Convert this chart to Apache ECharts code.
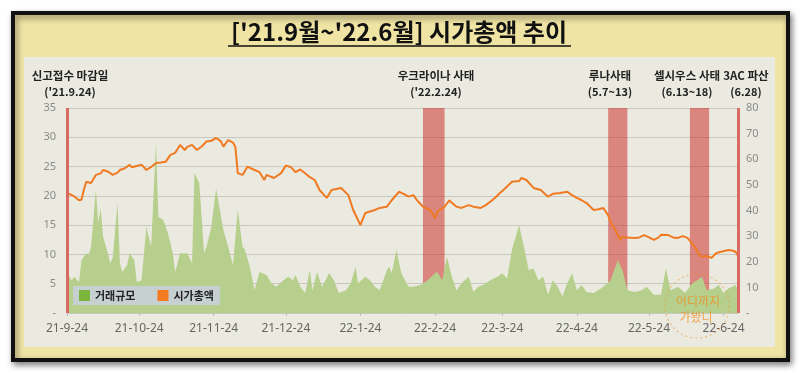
<!DOCTYPE html>
<html>
<head>
<meta charset="utf-8">
<script src="https://cdn.jsdelivr.net/npm/echarts@6/dist/echarts.min.js"></script>
<style>
html,body{margin:0;padding:0;background:#fff;}
#c{width:800px;height:373px;}
</style>
</head>
<body>
<div id="c"></div>
<script>
// ---- data ----
const startDate = '2021-09-24';
const endDate = '2022-06-30';
const tickDates = ['2021-09-24','2021-10-24','2021-11-24','2021-12-24','2022-01-24','2022-02-24','2022-03-24','2022-04-24','2022-05-24','2022-06-24'];
const tickLabels = ['21-9-24','21-10-24','21-11-24','21-12-24','22-1-24','22-2-24','22-3-24','22-4-24','22-5-24','22-6-24'];

const capDates = ['2021-09-24','2021-09-25','2021-09-27','2021-09-29','2021-09-30','2021-10-01','2021-10-02','2021-10-04','2021-10-06','2021-10-08','2021-10-09','2021-10-11','2021-10-13','2021-10-15','2021-10-16','2021-10-18','2021-10-20','2021-10-21','2021-10-23','2021-10-25','2021-10-27','2021-10-29','2021-10-31','2021-11-02','2021-11-04','2021-11-06','2021-11-08','2021-11-10','2021-11-12','2021-11-13','2021-11-15','2021-11-17','2021-11-19','2021-11-21','2021-11-23','2021-11-25','2021-11-27','2021-11-28','2021-11-30','2021-12-02','2021-12-03','2021-12-04','2021-12-06','2021-12-08','2021-12-11','2021-12-13','2021-12-15','2021-12-16','2021-12-19','2021-12-22','2021-12-24','2021-12-26','2021-12-28','2021-12-30','2022-01-01','2022-01-03','2022-01-05','2022-01-07','2022-01-10','2022-01-12','2022-01-16','2022-01-19','2022-01-21','2022-01-23','2022-01-24','2022-01-26','2022-01-30','2022-02-01','2022-02-04','2022-02-06','2022-02-09','2022-02-11','2022-02-13','2022-02-15','2022-02-17','2022-02-19','2022-02-22','2022-02-24','2022-02-25','2022-02-28','2022-03-02','2022-03-03','2022-03-05','2022-03-07','2022-03-10','2022-03-12','2022-03-15','2022-03-17','2022-03-19','2022-03-21','2022-03-23','2022-03-25','2022-03-28','2022-03-31','2022-04-01','2022-04-03','2022-04-06','2022-04-09','2022-04-12','2022-04-14','2022-04-17','2022-04-20','2022-04-22','2022-04-24','2022-04-26','2022-04-28','2022-05-01','2022-05-03','2022-05-05','2022-05-07','2022-05-08','2022-05-10','2022-05-12','2022-05-13','2022-05-15','2022-05-18','2022-05-20','2022-05-22','2022-05-24','2022-05-26','2022-05-28','2022-05-29','2022-06-01','2022-06-03','2022-06-05','2022-06-07','2022-06-09','2022-06-12','2022-06-14','2022-06-15','2022-06-17','2022-06-19','2022-06-21','2022-06-23','2022-06-26','2022-06-28','2022-06-29','2022-06-30'];
const capValues = [45.7,46.5,45.5,44,44.2,48,51.2,50.7,53.9,54.5,55.8,55.2,53.9,54.8,55.8,56.5,57.8,56.9,57.4,57.9,55.8,57,58.5,58.7,59,61.7,62.5,65.6,63.6,64.8,65.6,63.6,65,66.9,67.2,68.3,67,64.9,67.5,66.5,64.9,54.6,53.9,57.1,55.8,55,51.9,53.9,52.7,54.6,57.5,57,55,56,54.5,53,51.9,48,44.9,48,48.8,46,40.2,36.3,34.3,39,40.2,41,41.5,44,47.3,46.5,45.4,46,43.5,41.5,40.2,37,39.5,41.5,44,43,41.5,41,42.1,41.5,41,42,43.4,45,46.8,48.5,51.2,51.5,52.7,51.9,48.8,48,45.4,46.5,46.8,47.3,46,44.9,44,42.9,40.2,40.5,41,38.2,35.5,32.4,28.5,29.8,29.5,29.3,29.5,30.4,29.5,28.5,29.5,30.5,30.4,29.5,29.3,30,29.3,25.9,22.6,22,22.2,21.5,23.4,23.9,24.6,24.3,23.9,22.2];

const volDates = ['2021-09-24','2021-09-26','2021-09-27','2021-09-29','2021-09-30','2021-10-02','2021-10-03','2021-10-04','2021-10-06','2021-10-07','2021-10-08','2021-10-09','2021-10-11','2021-10-12','2021-10-13','2021-10-15','2021-10-16','2021-10-17','2021-10-19','2021-10-20','2021-10-22','2021-10-23','2021-10-25','2021-10-27','2021-10-29','2021-10-31','2021-11-01','2021-11-03','2021-11-05','2021-11-07','2021-11-08','2021-11-10','2021-11-13','2021-11-15','2021-11-16','2021-11-18','2021-11-20','2021-11-21','2021-11-23','2021-11-25','2021-11-28','2021-11-30','2021-12-02','2021-12-04','2021-12-06','2021-12-07','2021-12-09','2021-12-11','2021-12-13','2021-12-16','2021-12-18','2021-12-20','2021-12-23','2021-12-25','2021-12-27','2021-12-28','2021-12-30','2022-01-01','2022-01-03','2022-01-04','2022-01-06','2022-01-08','2022-01-11','2022-01-13','2022-01-15','2022-01-18','2022-01-20','2022-01-22','2022-01-23','2022-01-26','2022-01-28','2022-01-30','2022-02-01','2022-02-04','2022-02-05','2022-02-06','2022-02-08','2022-02-10','2022-02-13','2022-02-15','2022-02-18','2022-02-21','2022-02-24','2022-02-25','2022-02-27','2022-03-01','2022-03-03','2022-03-05','2022-03-07','2022-03-10','2022-03-12','2022-03-14','2022-03-16','2022-03-19','2022-03-22','2022-03-24','2022-03-26','2022-03-28','2022-03-31','2022-04-02','2022-04-04','2022-04-06','2022-04-08','2022-04-10','2022-04-12','2022-04-14','2022-04-16','2022-04-18','2022-04-20','2022-04-22','2022-04-24','2022-04-26','2022-04-28','2022-05-01','2022-05-04','2022-05-05','2022-05-08','2022-05-11','2022-05-13','2022-05-15','2022-05-18','2022-05-21','2022-05-23','2022-05-26','2022-05-29','2022-05-31','2022-06-02','2022-06-05','2022-06-08','2022-06-11','2022-06-13','2022-06-15','2022-06-17','2022-06-20','2022-06-22','2022-06-24','2022-06-26','2022-06-29','2022-06-30'];
const volValues = [6.8,5.6,6.2,5.3,9,10.2,9.9,11.3,21,15.4,17.9,13,10.2,8.5,9.4,18.8,8.5,7,8.2,10.2,9,5.3,5.6,14.7,11.3,29,16.4,15.9,13.6,10.2,7,10.2,10.2,8.5,23.9,22.2,10.2,11.3,14.7,21.3,14.2,11.3,8.2,17.6,11.3,10.8,7.9,3.9,7,6.5,5.1,4.5,5.6,6.2,5.6,6.5,4.5,3.4,7.3,3.9,7,4.5,6.8,5.6,3.4,3.9,5.1,7.9,5.1,6.2,5.6,4.5,3.9,7.3,7.9,6.8,10.8,6.8,4.5,4.5,4.8,5.6,6.8,7,5.6,9.6,6.2,3.9,5.1,6.2,3.6,4.5,4.8,5.6,6.2,6.8,5.9,10.8,15,11.3,7.3,7.6,5.6,6.2,3.1,5.6,4.5,2.8,5.1,6.8,3.9,4.8,3.6,3.4,4.2,4.5,5.6,9,7.3,3.9,3.6,3.9,4.5,3.1,3.1,7.6,3.9,4.5,3.4,5.1,5.6,6.2,3.9,4.2,4.8,3.4,4.2,4.8,3.9];

const eventBands = [
  {name: '우크라이나 사태', from: '2022-02-19', to: '2022-02-28'},
  {name: '루나사태', from: '2022-05-07', to: '2022-05-15'},
  {name: '셀시우스 사태', from: '2022-06-10', to: '2022-06-18'}
];
const eventLines = ['2021-09-24', '2022-06-30'];

const annotations = [
  {line1: '신고접수 마감일', line2: "('21.9.24)"},
  {line1: '우크라이나 사태', line2: "('22.2.24)"},
  {line1: '루나사태', line2: '(5.7~13)'},
  {line1: '셀시우스 사태', line2: '(6.13~18)'},
  {line1: '3AC 파산', line2: '(6.28)'}
];
const titleText = "['21.9월~'22.6월] 시가총액 추이";
const seriesNames = ['거래규모', '시가총액'];

// ---- helpers ----
const dayMs = 86400000;
function dayIdx(s) { return Math.round((Date.parse(s) - Date.parse(startDate)) / dayMs); }
const tickDays = tickDates.map(dayIdx);
const maxDay = dayIdx(endDate);

const KR = '"Noto Sans CJK KR", "Noto Sans", sans-serif';
const chart = echarts.init(document.getElementById('c'), null, {renderer: 'canvas'});

const gridLeft = 67, gridRight = 62, gridTop = 108, gridBottom = 60;

// annotation text anchor positions (layout only)
const annX = [70, 436, 610, 687, 746];
const annGraphics = [];
annotations.forEach((a, i) => {
  annGraphics.push({type: 'text', z: 100, x: annX[i], y: 76, style: {text: a.line1, font: 'bold 11.5px ' + KR, fill: '#222', align: 'center', verticalAlign: 'middle'}});
  annGraphics.push({type: 'text', z: 100, x: annX[i], y: 92, style: {text: a.line2, font: 'bold 11px ' + KR, fill: '#222', align: 'center', verticalAlign: 'middle'}});
});

const option = {
  backgroundColor: '#ffffff',
  animation: false,
  graphic: [
    {type: 'rect', z: -100, shape: {x: 13, y: 13, width: 775, height: 347}, style: {fill: '#efe4a3', stroke: '#111', lineWidth: 4, shadowBlur: 6, shadowOffsetX: 2, shadowOffsetY: 3, shadowColor: 'rgba(0,0,0,0.45)'}},
    {type: 'rect', z: -99, shape: {x: 24, y: 57, width: 751, height: 290}, style: {fill: '#ebeae0'}},
    {type: 'text', z: 100, x: 399, y: 32, style: {text: titleText, font: 'bold 24px ' + KR, fill: '#111', align: 'center', verticalAlign: 'middle'}},
    {type: 'line', z: 100, shape: {x1: 228, y1: 46, x2: 571, y2: 46}, style: {stroke: '#111', lineWidth: 1.5}},
    {type: 'circle', z: 100, shape: {cx: 697, cy: 306, r: 32}, style: {fill: 'none', stroke: 'rgba(240,150,40,0.55)', lineWidth: 1.2, lineDash: [2, 3]}},
    {type: 'text', z: 100, x: 698, y: 301, style: {text: '어디까지', font: '12px ' + KR, fill: 'rgba(240,140,30,0.75)', align: 'center', verticalAlign: 'middle'}},
    {type: 'text', z: 100, x: 696, y: 317, style: {text: '가봤니', font: '12px ' + KR, fill: 'rgba(240,140,30,0.75)', align: 'center', verticalAlign: 'middle'}}
  ].concat(annGraphics),
  legend: {
    data: seriesNames,
    left: 73, top: 286,
    icon: 'rect', itemWidth: 11, itemHeight: 11, itemGap: 22,
    backgroundColor: '#c6d0d1',
    padding: [4, 6, 4, 6],
    textStyle: {fontFamily: KR, fontWeight: 'bold', fontSize: 11, color: '#222'}
  },
  grid: {left: gridLeft, right: gridRight, top: gridTop, bottom: gridBottom},
  xAxis: {
    type: 'value', min: 0, max: maxDay,
    axisLine: {show: false},
    splitLine: {show: false},
    axisTick: {show: true, customValues: tickDays, length: 3, lineStyle: {color: '#bbb'}},
    axisLabel: {
      customValues: tickDays,
      formatter: v => tickLabels[tickDays.indexOf(v)] || '',
      color: '#666', fontSize: 12, fontFamily: '"Noto Sans", sans-serif', margin: 10
    }
  },
  yAxis: [
    {type: 'value', min: 0, max: 35, interval: 5,
     axisLine: {show: false}, axisTick: {show: false},
     splitLine: {lineStyle: {color: '#c9c7bf', width: 1}},
     axisLabel: {formatter: v => v === 0 ? '-' : v, color: '#8a8a8a', fontSize: 11, fontFamily: '"Noto Sans", sans-serif', margin: 11}},
    {type: 'value', min: 0, max: 80, interval: 10,
     axisLine: {show: false}, axisTick: {show: false}, splitLine: {show: false},
     axisLabel: {formatter: v => v === 0 ? '-' : v, color: '#8a8a8a', fontSize: 11, fontFamily: '"Noto Sans", sans-serif', margin: 8}}
  ],
  series: [
    {
      name: seriesNames[0], type: 'line', yAxisIndex: 0, z: 1,
      symbol: 'none', smooth: false,
      data: volDates.map((d, i) => [dayIdx(d), volValues[i]]),
      itemStyle: {color: '#7cb53b'},
      lineStyle: {width: 0, color: '#b6cf8c'},
      areaStyle: {color: '#b6cf8c', opacity: 1}
    },
    {
      name: seriesNames[1], type: 'line', yAxisIndex: 1, z: 3,
      symbol: 'none', smooth: false,
      data: capDates.map((d, i) => [dayIdx(d), capValues[i]]),
      itemStyle: {color: '#f47b20'},
      lineStyle: {width: 2, color: '#f07a22'}
    },
    {
      name: 'events', type: 'line', yAxisIndex: 0, z: 5, silent: true,
      data: [],
      markArea: {
        silent: true,
        itemStyle: {color: 'rgba(205,60,55,0.58)'},
        label: {show: false},
        data: eventBands.map(b => [{xAxis: dayIdx(b.from)}, {xAxis: dayIdx(b.to)}])
      },
      markLine: {
        silent: true, symbol: 'none', label: {show: false},
        lineStyle: {color: '#d86a62', width: 3, type: 'solid'},
        data: eventLines.map(d => ({xAxis: dayIdx(d)}))
      }
    }
  ]
};
chart.setOption(option);
</script>
</body>
</html>
